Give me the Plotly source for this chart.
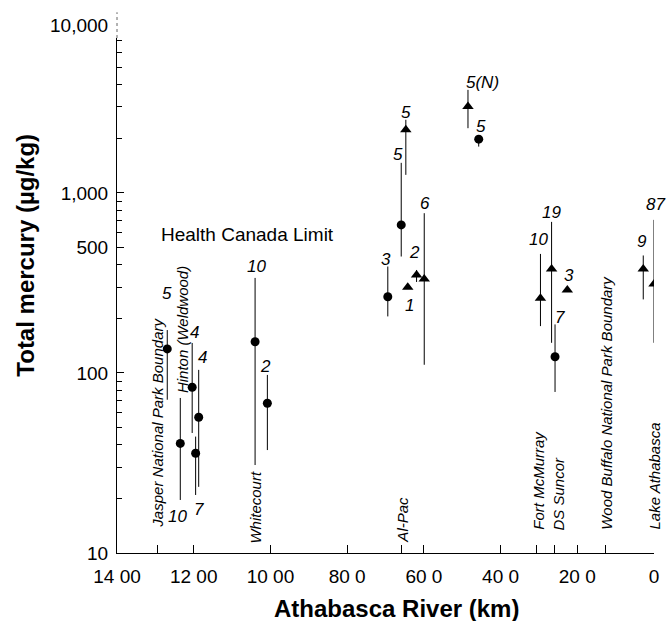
import math
import plotly.graph_objects as go

# ---------------- data ----------------
site_km = [1269, 1235, 1204, 1195, 1187, 1040, 1008, 694, 642, 659, 647,
           619, 599, 485, 457, 296, 267, 226, 258, 28, 0]
hg_mean = [136, 40.6, 83.3, 35.8, 56.7, 149, 67.9, 265, 299, 664, 2239,
           350, 332, 3013, 1987, 260, 378, 289, 123, 378, 312]
hg_low = [71, 19.7, 46.4, 21, 23.3, 30.8, 37.3, 206, 299, 443, 1259,
          320, 111, 2286, 1807, 182, 147, 289, 78.4, 256, 147]
hg_high = [173, 72.6, 146.7, 44.3, 104, 337, 97.5, 390, 299, 1468, 2545,
           373, 771, 3733, 1987, 458, 690, 289, 186, 449, 708]
marker_kind = ["circle", "circle", "circle", "circle", "circle", "circle", "circle",
               "circle", "triangle", "circle", "triangle", "triangle", "triangle",
               "triangle", "circle", "triangle", "triangle", "triangle", "circle",
               "triangle", "triangle"]
n_label = ["5", "10", "4", "7", "4", "10", "2", "3", "1", "5", "5", "2", "6",
           "5(N)", "5", "10", "19", "3", "7", "9", "87"]

location_names = ["Jasper National Park Boundary", "Hinton (Weldwood)", "Whitecourt",
                  "Al-Pac", "Fort McMurray", "DS Suncor",
                  "Wood Buffalo National Park Boundary", "Lake Athabasca"]
location_km = [1294, 1229, 1040, 658, 302, 249, 123, 0]

x_tick_vals = [1400, 1200, 1000, 800, 600, 400, 200, 0]
x_tick_text = ["14 00", "12 00", "10 00", "80 0", "60 0", "40 0", "20 0", "0"]
x_site_ticks = [1295, 658, 306, 259, 127]
y_tick_vals = [10, 100, 500, 1000]
y_tick_text = ["10", "100", "500", "1,000"]
y_minor_vals = [20, 30, 40, 50, 60, 70, 80, 90, 200, 300, 400, 600, 700, 800, 900,
                2000, 3000, 4000, 5000, 6000, 7000]

# ---------------- styling (label placement, pixels) ----------------
label_anchor = ["hi", "lo", "hi", "lo", "hi", "hi", "hi", "hi", "lo", "hi", "hi",
                "hi", "hi", "hi", "hi", "hi", "hi", "hi", "hi", "hi", "hi"]
label_dx = [0, -3, 2, 3, 4, 1, -2, -2, 2, -3, 0, -2, 1, 15, 2, -2, 0, 2, 5, -1, 1]
label_dy = [37, -17, 10, -15, 12, 11, 8, 7, -18, 8, 7, 17, 10, 7, 13, 14, 9, 14, 7, 14, 15]
location_bottom = [0.0447, 0.3068, 0.0136, 0.0155, 0.0408, 0.0408, 0.0408, 0.0408]

FONT = "Liberation Sans, Arial, Helvetica, sans-serif"

fig = go.Figure()

for kind, sym, size in [("circle", "circle", 9), ("triangle", "triangle-up", 10)]:
    idx = [i for i, k in enumerate(marker_kind) if k == kind]
    fig.add_trace(go.Scatter(
        x=[site_km[i] for i in idx],
        y=[hg_mean[i] for i in idx],
        mode="markers",
        marker=dict(symbol=sym, size=size, color="black"),
        error_y=dict(type="data", symmetric=False,
                     array=[hg_high[i] - hg_mean[i] for i in idx],
                     arrayminus=[hg_mean[i] - hg_low[i] for i in idx],
                     width=0, thickness=1, color="black"),
        showlegend=False,
        hoverinfo="x+y",
    ))

annotations = []
for i in range(len(site_km)):
    yv = hg_high[i] if label_anchor[i] == "hi" else hg_low[i]
    annotations.append(dict(
        x=site_km[i], y=math.log10(yv), xref="x", yref="y",
        text=n_label[i], showarrow=False,
        xanchor="center", yanchor="middle",
        xshift=label_dx[i], yshift=label_dy[i],
        font=dict(family=FONT, size=17, color="black", style="italic"),
    ))

for name, km, yb in zip(location_names, location_km, location_bottom):
    annotations.append(dict(
        x=km, y=yb, xref="x", yref="paper", text=name, showarrow=False,
        textangle=-90, xanchor="center", yanchor="bottom",
        font=dict(family=FONT, size=15, color="black", style="italic"),
    ))

annotations.append(dict(
    x=1060, y=2.767, xref="x", yref="y", text="Health Canada Limit",
    showarrow=False, xanchor="center", yanchor="middle",
    font=dict(family=FONT, size=19, color="black"),
))
annotations.append(dict(
    x=0, y=1.0252, xref="paper", yref="paper", text="10,000", showarrow=False,
    xanchor="right", yanchor="middle", xshift=-7,
    font=dict(family=FONT, size=19, color="black"),
))
annotations.append(dict(
    x=-0.172, y=0.5786, xref="paper", yref="paper", text="<b>Total mercury (µg/kg)</b>",
    showarrow=False, textangle=-90, xanchor="center", yanchor="middle",
    font=dict(family=FONT, size=24, color="black"),
))
annotations.append(dict(
    x=0.5213, y=-0.1087, xref="paper", yref="paper", text="<b>Athabasca River (km)</b>",
    showarrow=False, xanchor="center", yanchor="middle",
    font=dict(family=FONT, size=24, color="black"),
))

fig.update_layout(
    width=671, height=621, autosize=False,
    margin=dict(l=117, r=14, t=38, b=68),
    paper_bgcolor="white", plot_bgcolor="white",
    font=dict(family=FONT, size=19, color="black"),
    annotations=annotations,
    shapes=[dict(type="line", xref="paper", yref="paper", x0=0, x1=0, y0=1, y1=1.05,
                 line=dict(color="#666", width=1, dash="dot"))],
)

fig.update_xaxes(
    range=[1400, 0], showgrid=False, zeroline=False,
    showline=True, linecolor="black", linewidth=1,
    tickmode="array", tickvals=x_tick_vals, ticktext=x_tick_text,
    ticks="inside", ticklen=8, tickcolor="black", tickwidth=1,
    ticklabelstandoff=6,
    tickfont=dict(family=FONT, size=19, color="black"),
    minor=dict(tickmode="array", tickvals=x_site_ticks, ticks="inside",
               ticklen=8, tickcolor="black", tickwidth=1, showgrid=False),
)
fig.update_yaxes(
    type="log", range=[1, 3.86], showgrid=False, zeroline=False,
    showline=True, linecolor="black", linewidth=1,
    tickmode="array", tickvals=y_tick_vals, ticktext=y_tick_text,
    ticks="inside", ticklen=7, tickcolor="black", tickwidth=1,
    ticklabelstandoff=4,
    tickfont=dict(family=FONT, size=19, color="black"),
    minor=dict(tickmode="array", tickvals=y_minor_vals, ticks="inside",
               ticklen=5, tickcolor="black", tickwidth=1, showgrid=False),
)

fig.write_html("out.html",
               config={"displayModeBar": False},
               post_script="document.body.style.margin='0';document.body.style.overflow='hidden';")
